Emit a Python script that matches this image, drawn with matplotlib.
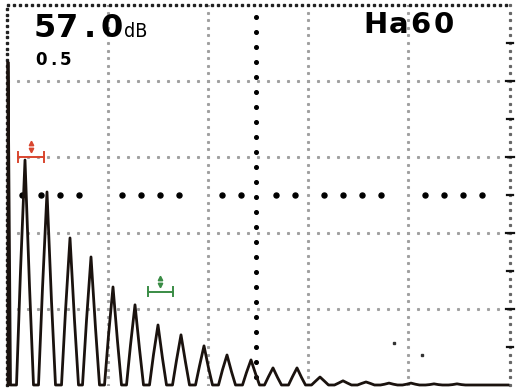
import numpy as np
import matplotlib.pyplot as plt

# A-scan trace vertices (x: % of screen width, y: amplitude %)
trace_x = [0.0, 0.0, 0.5,
           1.7, 2.5, 3.4, 4.3, 5.1,
           6.1, 6.9, 7.8, 8.7, 9.5,
           10.7, 11.5, 12.4, 13.3, 14.1,
           14.9, 15.7, 16.6, 17.5, 18.3,
           19.3, 20.1, 21.0, 21.9, 22.7,
           23.7, 24.5, 25.4, 26.3, 27.1,
           28.3, 29.1, 30.0, 30.9, 31.7,
           32.9, 33.7, 34.6, 35.5, 36.3,
           37.5, 38.3, 39.2, 40.1, 40.9,
           42.1, 42.9, 43.8, 44.7, 45.5,
           46.9, 47.7, 48.6, 49.5, 50.3,
           51.3, 52.1, 53.0, 53.9, 54.7,
           56.1, 56.9, 57.8, 58.7, 59.5,
           60.7, 61.5, 62.4, 63.3, 64.1,
           65.3, 66.1, 67.0, 67.9, 68.7,
           69.9, 70.7, 71.6, 72.5, 73.3,
           74.5, 75.3, 76.2, 77.1, 77.9,
           78.9, 79.7, 80.6, 81.5, 82.3,
           83.5, 84.3, 85.2, 86.1, 86.9,
           88.1, 88.9, 89.8, 90.7, 91.5,
           100.0]
trace_y = [0, 85, 0,
           0, 30.0, 59.2, 26.0, 0,
           0, 25.5, 50.8, 22.0, 0,
           0, 19.5, 38.7, 17.0, 0,
           0, 17.0, 33.7, 15.0, 0,
           0, 13.0, 25.8, 11.5, 0,
           0, 10.5, 21.1, 9.5, 0,
           0, 8.0, 15.8, 7.0, 0,
           0, 6.5, 13.2, 6.0, 0,
           0, 5.0, 10.3, 4.5, 0,
           0, 4.0, 7.9, 3.5, 0,
           0, 3.3, 6.6, 3.0, 0,
           0, 2.2, 4.5, 2.0, 0,
           0, 2.2, 4.5, 2.0, 0,
           0, 1.0, 2.1, 1.0, 0,
           0, 0.5, 1.1, 0.5, 0,
           0, 0.4, 0.8, 0.4, 0,
           0, 0.2, 0.5, 0.2, 0,
           0, 0.2, 0.5, 0.2, 0,
           0, 0.1, 0.3, 0.1, 0,
           0, 0.1, 0.3, 0.1, 0,
           0]

# gate markers (start, end, level)
gate_a = [2.0, 7.2, 60.0]
gate_b = [28.0, 33.0, 24.5]

# stray pixels on the screen
noise_x = [77.2, 82.8]
noise_y = [11.1, 7.9]

gain_text = "57.0"
gain_unit = "dB"
step_text = "0.5"
readout_text = "Ha60"

fig = plt.figure(figsize=(5.23, 3.89), dpi=100)
fig.patch.set_facecolor("white")
ax = fig.add_axes([8 / 523, 4 / 389, 500 / 523, 380 / 389])
ax.set_xlim(0, 100)
ax.set_ylim(0, 100)
ax.axis("off")

grid_col = "#a0a0a0"

# fine dotted grid
for g in [20, 40, 60, 80]:
    xs = np.arange(0, 100.1, 2)
    ax.plot(xs, np.full_like(xs, g), ls="none", marker="s", ms=1.2, color=grid_col)
    ys = np.arange(0, 100.1, 2)
    ax.plot(np.full_like(ys, g), ys, ls="none", marker="s", ms=1.2, color=grid_col)

# bold centre cross
cx = [2.8, 6.6, 10.4, 14.2, 22.8, 26.6, 30.4, 34.2,
      42.8, 46.6, 53.6, 57.4, 63.2, 67.0, 70.8, 74.6, 83.4, 87.2, 91.0, 94.8]
ax.plot(cx, [50] * len(cx), ls="none", marker="o", ms=3.6, color="black")
cy = np.arange(2, 100, 3.95)
ax.plot([49.6] * len(cy), cy, ls="none", marker="o", ms=2.6, color="black")

# frame: dotted top and left, scale on the right
fx = np.arange(0, 100.5, 1.2)
ax.plot(fx, [100] * len(fx), ls="none", marker="s", ms=1.8, color="#222222", clip_on=False)
fy = np.arange(0, 100.5, 1.5)
ax.plot([-0.2] * len(fy), fy, ls="none", marker="s", ms=1.6, color="#222222", clip_on=False)
ry = np.arange(0, 100.5, 2)
ax.plot([100.4] * len(ry), ry, ls="none", marker="s", ms=1.3, color="#666666", clip_on=False)
for t in np.arange(10, 100, 10):
    ln = 1.6 if t % 20 == 0 else 1.0
    ax.plot([100.4 - ln / 2, 100.4 + ln / 2], [t, t], color="#111111", lw=1.6, clip_on=False)

# A-scan trace
ax.plot(trace_x, trace_y, color="#1a120e", lw=2.0, clip_on=False)

ax.plot(noise_x, noise_y, ls="none", marker="s", ms=1.5, color="#333333")

# gate markers
for gate, col in [(gate_a, "#d9462f"), (gate_b, "#3a8c45")]:
    x0, x1, lev = gate
    ax.plot([x0, x1], [lev, lev], color=col, lw=1.4)
    ax.plot([x0, x0], [lev - 1.2, lev + 1.2], color=col, lw=1.4)
    ax.plot([x1, x1], [lev - 1.2, lev + 1.2], color=col, lw=1.4)
    mid = (x0 + x1) / 2
    ax.plot([mid], [lev + 3.7], marker="^", ms=3.2, color=col, ls="none")
    ax.plot([mid], [lev + 1.9], marker="v", ms=3.2, color=col, ls="none")


def spaced_text(x, y, s, step, **kw):
    # screen font is a wide fixed-pitch font, so place each character in its cell
    for i, ch in enumerate(s):
        ax.text(x + i * step + step / 2, y, ch, va="baseline", ha="center", color="black", **kw)


spaced_text(5.2, 91.6, gain_text, 4.45, family="DejaVu Sans", weight="heavy", fontsize=23)
ax.text(23.2, 91.6, gain_unit, family="DejaVu Sans", fontstretch="condensed",
        fontsize=14, va="baseline", ha="left", color="black")
spaced_text(5.4, 84.2, step_text, 2.45, family="DejaVu Sans", weight="bold", fontsize=12)
spaced_text(71.2, 92.6, readout_text, 4.55, family="DejaVu Sans", weight="heavy", fontsize=21)

plt.savefig("out.png", dpi=100, facecolor="white")
